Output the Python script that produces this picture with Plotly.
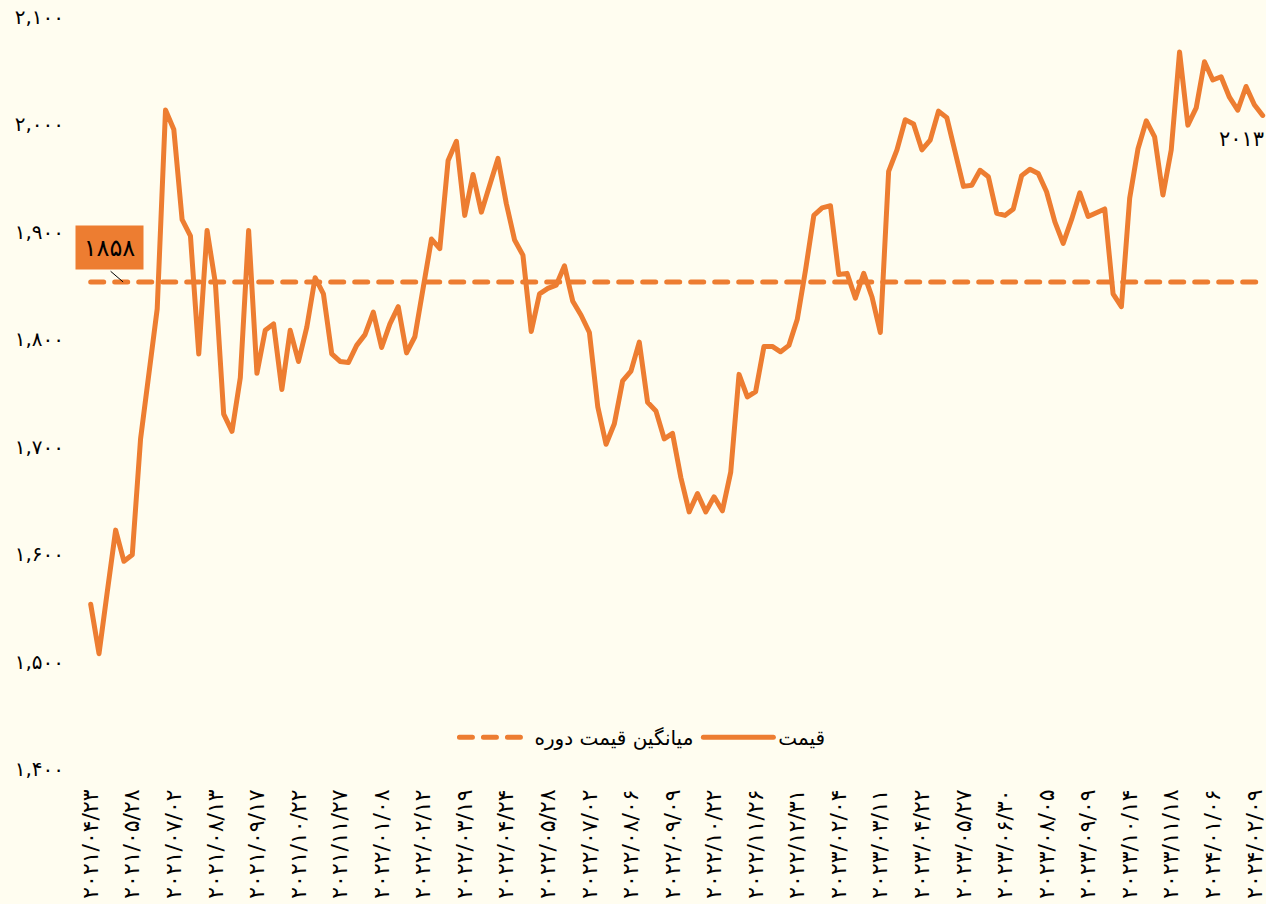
import plotly.graph_objects as go

# ---- data ----
prices = [1558, 1512, 1570, 1627, 1598, 1604, 1712, 1773, 1833, 2018,
          2000, 1916, 1901, 1791, 1906, 1857, 1735, 1719, 1769, 1906,
          1773, 1813, 1819, 1758, 1813, 1784, 1816, 1862, 1847, 1791,
          1784, 1783, 1799, 1809, 1830, 1797, 1819, 1835, 1792, 1807,
          1853, 1898, 1889, 1971, 1989, 1920, 1958, 1923, 1948, 1973,
          1931, 1897, 1883, 1812, 1847, 1852, 1855, 1873, 1840, 1827,
          1811, 1742, 1707, 1726, 1766, 1775, 1802, 1746, 1738, 1712,
          1717, 1676, 1644, 1661, 1644, 1658, 1645, 1681, 1772, 1751,
          1756, 1798, 1798, 1793, 1799, 1823, 1869, 1920, 1927, 1929,
          1865, 1866, 1843, 1866, 1844, 1811, 1961, 1981, 2009, 2005,
          1981, 1990, 2017, 2011, 1979, 1947, 1948, 1962, 1956, 1922,
          1920, 1926, 1957, 1963, 1959, 1942, 1914, 1894, 1916, 1941,
          1919, 1923, 1926, 1847, 1835, 1936, 1982, 2008, 1993, 1939,
          1981, 2072, 2004, 2020, 2063, 2046, 2049, 2030, 2018, 2040,
          2023, 2013]
average_price = 1858

date_labels = ["2021/04/23", "2021/05/28", "2021/07/02", "2021/08/13", "2021/09/17",
               "2021/10/22", "2021/11/27", "2022/01/08", "2022/02/12", "2022/03/19",
               "2022/04/24", "2022/05/28", "2022/07/02", "2022/08/06", "2022/09/09",
               "2022/10/22", "2022/11/26", "2022/12/31", "2023/02/04", "2023/03/11",
               "2023/04/22", "2023/05/27", "2023/06/30", "2023/08/05", "2023/09/09",
               "2023/10/14", "2023/11/18", "2024/01/06", "2024/02/09"]
label_step = 5
y_ticks = [1400, 1500, 1600, 1700, 1800, 1900, 2000, 2100]

series_price = "قیمت"
series_avg = "میانگین قیمت دوره"

# ---- helpers ----
FA = str.maketrans("0123456789", "۰۱۲۳۴۵۶۷۸۹")
def fa(s):
    return str(s).translate(FA)

ORANGE = "#ED7D31"
BG = "#FFFDF0"
FONT = "DejaVu Sans"

n = len(prices)
xs = list(range(n))
tickvals = [i * label_step for i in range(len(date_labels))]
ticktext = [fa(d) for d in date_labels]

fig = go.Figure()
fig.add_trace(go.Scatter(
    x=xs, y=[average_price] * n, mode="lines", name=series_avg,
    line=dict(color=ORANGE, width=5, dash="13px,11px"),
))
fig.add_trace(go.Scatter(
    x=xs, y=prices, mode="lines", name=series_price,
    line=dict(color=ORANGE, width=5),
))

# average label box
fig.add_annotation(
    x=2.32, y=1890, xref="x", yref="y", text=fa(average_price),
    showarrow=False, bgcolor=ORANGE, width=65, height=41,
    font=dict(family=FONT, size=24, color="black"),
    xanchor="center", yanchor="middle",
)
fig.add_annotation(
    x=3.9, y=average_price, xref="x", yref="y", text="",
    showarrow=True, arrowhead=0, arrowwidth=1, arrowcolor="black",
    ax=-14, ay=-12, standoff=0,
)
# last value label
fig.add_annotation(
    x=n - 1, y=prices[-1], xref="x", yref="y", text=fa(prices[-1]),
    showarrow=False, xanchor="right", yanchor="middle", xshift=3, yshift=-24,
    font=dict(family=FONT, size=21, color="black"),
)

fig.update_layout(
    width=1266, height=904,
    paper_bgcolor=BG, plot_bgcolor=BG,
    margin=dict(l=85, r=0, t=22, b=130),
    font=dict(family=FONT, color="black"),
    showlegend=True,
    legend=dict(orientation="h", x=0.472, xanchor="center", y=0.049, yanchor="middle",
                itemwidth=70,
                font=dict(family=FONT, size=20, color="black"), bgcolor="rgba(0,0,0,0)"),
)
fig.update_xaxes(
    range=[-0.686, 141.4], showgrid=False, zeroline=False, showline=False,
    tickmode="array", tickvals=tickvals, ticktext=ticktext, tickangle=-90,
    tickfont=dict(family=FONT, size=22, color="black"), ticks="", automargin=False,
    ticklabeloverflow="allow", ticklabelstandoff=10,
)
fig.update_yaxes(
    range=[1400, 2100], showgrid=False, zeroline=False, showline=False,
    tickmode="array", tickvals=y_ticks,
    ticktext=[fa(f"{v:,}") for v in y_ticks],
    tickfont=dict(family=FONT, size=20, color="black"), ticks="", automargin=False,
    ticklabelstandoff=20, ticklabelshift=-5, ticklabeloverflow="allow",
)

fig.write_html("out.html", config={"displayModeBar": False})

# page styling: no default margin, rounded line caps like the reference
with open("out.html", encoding="utf-8") as f:
    html = f.read()
css = ("<style>html,body{margin:0;padding:0;background:%s;overflow:hidden}"
       "path.js-line{stroke-linecap:round !important;stroke-linejoin:round !important}</style>") % BG
html = html.replace("<head>", "<head>" + css, 1)
with open("out.html", "w", encoding="utf-8") as f:
    f.write(html)
